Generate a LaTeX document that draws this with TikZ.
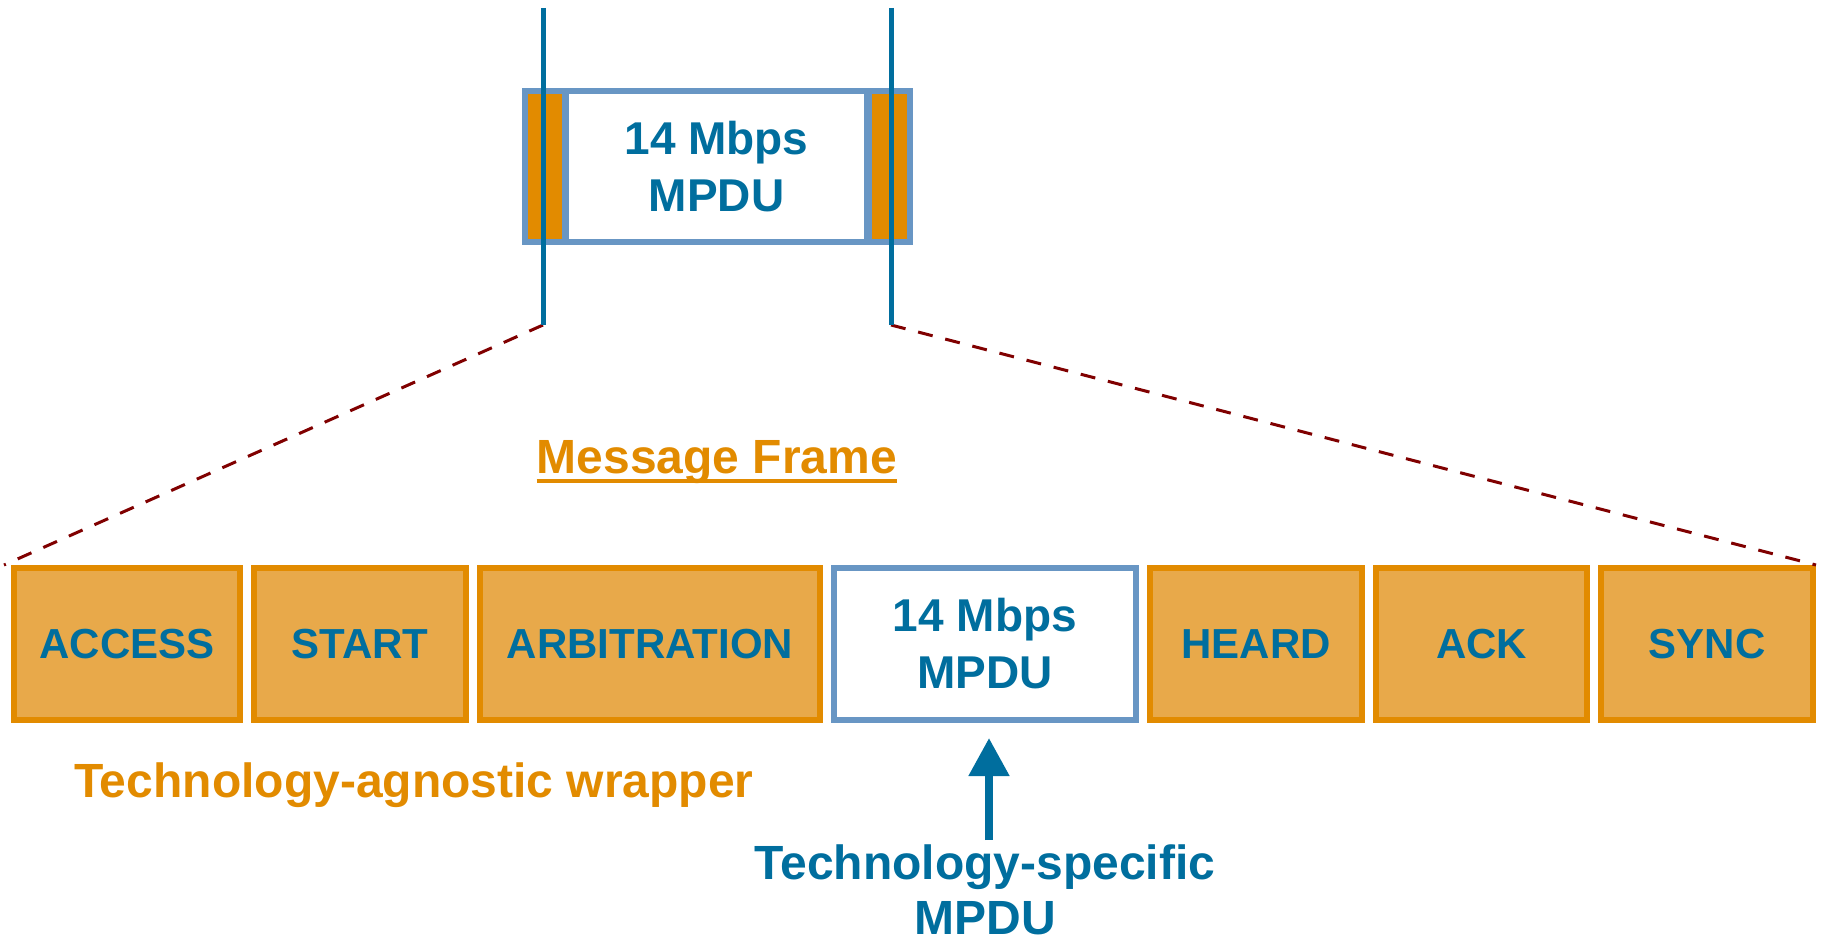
\documentclass[tikz,border=0pt]{standalone}
\usepackage{fontspec}
\setmainfont{Liberation Sans}
\usetikzlibrary{arrows.meta}
\definecolor{tblue}{RGB}{0,110,158}
\definecolor{bbox}{RGB}{104,150,196}
\definecolor{ostroke}{RGB}{226,139,0}
\definecolor{ofill}{RGB}{232,169,74}
\definecolor{dred}{RGB}{128,0,0}
\begin{document}
\begin{tikzpicture}[x=1pt,y=-1pt,
  field/.style={draw=ostroke, fill=ofill, line width=6pt, minimum height=152pt, inner sep=0pt, text=tblue, font=\fontsize{42}{50}\selectfont\bfseries},
  mpdubox/.style={draw=bbox, fill=white, line width=6pt, inner sep=0pt, text=tblue, align=center, font=\fontsize{46}{57}\selectfont\bfseries},
  wrapbox/.style={draw=bbox, fill=ostroke, line width=6pt, inner sep=0pt, minimum height=151pt},
  zoomline/.style={draw=tblue, line width=5pt},
  guide/.style={draw=dred, line width=3pt, dash pattern=on 15pt off 13pt},
  otext/.style={inner sep=0pt, text=ostroke},
]
\useasboundingbox (0,0) rectangle (1822,941);

% top packet
\node[wrapbox, minimum width=40pt] (wl) at (545,167) {};
\node[wrapbox, minimum width=41pt] (wr) at (889.5,167) {};
\node[mpdubox, minimum width=301pt, minimum height=151pt] (top) at (716.5,167) {14 Mbps\\MPDU};

\coordinate (lt) at (543,8);
\coordinate (lb) at (543,325);
\coordinate (rt) at (891,8);
\coordinate (rb) at (891,325);

% message frame fields
\node[field, minimum width=226pt] (access) at (127,644) {ACCESS};
\node[field, minimum width=212pt] (start) at (360,644) {START};
\node[field, minimum width=340pt] (arb) at (650,644) {ARBITRATION};
\node[mpdubox, minimum width=302pt, minimum height=152pt] (mpdu) at (985,644) {14 Mbps\\MPDU};
\node[field, minimum width=212pt] (heard) at (1256,644) {HEARD};
\node[field, minimum width=211pt] (ack) at (1481.5,644) {ACK};
\node[field, minimum width=212pt] (sync) at (1707,644) {SYNC};

% zoom lines
\draw[guide] (lb) -- ([xshift=-7pt]access.north west);
\draw[guide] (rb) -- (sync.north east);
\draw[zoomline] (lt) -- (lb);
\draw[zoomline] (rt) -- (rb);

% labels
\node[otext, anchor=base, font=\fontsize{48}{56}\selectfont\bfseries] (mf) at (717,473) {Message Frame};
\draw[ostroke, line width=4pt] ([yshift=-8pt]mf.base west) -- ([yshift=-8pt]mf.base east);

\node[otext, anchor=base west, font=\fontsize{48}{56}\selectfont\bfseries] (wrap) at (74,797) {Technology-agnostic wrapper};

\node[inner sep=0pt, anchor=north, align=center, text depth=0pt, text=tblue, font=\fontsize{48}{55}\selectfont\bfseries] (spec) at (985,845) {Technology-specific\\MPDU};

\draw[tblue, line width=8pt, -{Triangle[width=39pt,length=38pt]}] ([xshift=4pt,yshift=5pt]spec.north) -- ([xshift=4pt,yshift=-15pt]mpdu.south);
\end{tikzpicture}
\end{document}
